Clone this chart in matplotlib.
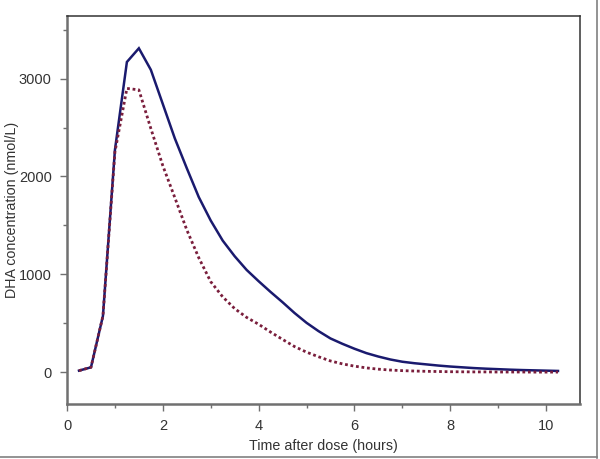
import matplotlib
matplotlib.use("Agg")
import matplotlib.pyplot as plt
from matplotlib.ticker import MultipleLocator
from matplotlib.lines import Line2D

time_h = [0.25, 0.5, 0.75, 1.0, 1.25, 1.5, 1.75, 2.0, 2.25, 2.5, 2.75, 3.0,
          3.25, 3.5, 3.75, 4.0, 4.25, 4.5, 4.75, 5.0, 5.25, 5.5, 5.75, 6.0,
          6.25, 6.5, 6.75, 7.0, 7.25, 7.5, 7.75, 8.0, 8.25, 8.5, 8.75, 9.0,
          9.25, 9.5, 9.75, 10.0, 10.25]

dha_solid = [16, 50, 575, 2270, 3170, 3310, 3090, 2740, 2390, 2085, 1790, 1550,
             1345, 1185, 1045, 930, 820, 715, 605, 505, 420, 345, 290, 240,
             195, 160, 130, 107, 92, 80, 68, 58, 50, 42, 36, 31,
             26, 22, 19, 16, 13]

dha_dotted = [16, 50, 575, 2250, 2900, 2885, 2490, 2110, 1785, 1455, 1170, 925,
              770, 650, 560, 490, 410, 335, 262, 205, 158, 115, 85, 62,
              44, 31, 22, 16, 12, 9, 7, 5, 4, 3, 3, 2,
              2, 2, 1, 1, 1]

x_ticks = [0, 2, 4, 6, 8, 10]
y_ticks = [0, 1000, 2000, 3000]

plt.rcParams['font.family'] = ['Liberation Sans', 'DejaVu Sans']

fig = plt.figure(figsize=(6.0, 4.59), dpi=100)
ax = fig.add_axes([0.1117, 0.1198, 0.855, 0.846])

ax.plot(time_h, dha_solid, color='#1a1a6e', lw=1.8, solid_joinstyle='miter')
ax.plot(time_h, dha_dotted, color='#7a1e3c', lw=2.0, linestyle=(0, (1, 1)),
        dash_capstyle='butt')

ax.set_xlim(0, 10.71)
ax.set_ylim(-325, 3643)
ax.set_xticks(x_ticks)
ax.set_yticks(y_ticks)
ax.xaxis.set_minor_locator(MultipleLocator(1))
ax.yaxis.set_minor_locator(MultipleLocator(500))

for side in ['left', 'bottom']:
    ax.spines[side].set_color('#707070')
    ax.spines[side].set_linewidth(1.8)
for side in ['top', 'right']:
    ax.spines[side].set_color('#333333')
    ax.spines[side].set_linewidth(1.1)

ax.tick_params(which='major', direction='out', length=5, width=1, color='#707070',
               labelsize=10.5, labelcolor='#333333', pad=6)
ax.tick_params(which='minor', direction='out', length=3, width=1, color='#707070')

ax.set_xlabel('Time after dose (hours)', fontsize=10.3, color='#333333', labelpad=4)
ax.set_ylabel('DHA concentration (nmol/L)', fontsize=10.3, color='#333333')
ax.yaxis.set_label_coords(-0.094, 0.5)

fig.add_artist(Line2D([0.995, 0.995], [0.003, 1.0], transform=fig.transFigure,
                      color='#808080', lw=1.2))
fig.add_artist(Line2D([0.0, 0.995], [0.004, 0.004], transform=fig.transFigure,
                      color='#808080', lw=1.2))

fig.savefig('out.png', dpi=100)
